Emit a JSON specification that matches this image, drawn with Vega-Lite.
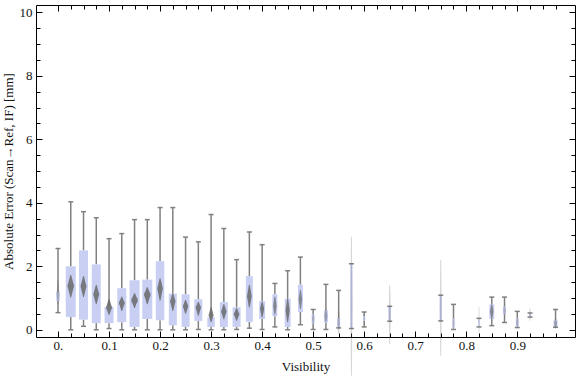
{
  "$schema": "https://vega.github.io/schema/vega-lite/v6.json",
  "width": 539,
  "height": 332,
  "autosize": {"type": "none"},
  "padding": {"left": 36, "top": 5, "right": 1, "bottom": 40},
  "config": {
    "view": {"stroke": "black", "strokeWidth": 1},
    "axis": {
      "grid": false,
      "domain": false,
      "tickColor": "black",
      "tickWidth": 1,
      "labelFont": "Liberation Serif",
      "labelFontSize": 13,
      "labelColor": "#111",
      "titleFont": "Liberation Serif",
      "titleFontSize": 13,
      "titleFontWeight": "normal",
      "titleColor": "#111"
    }
  },
  "data": {
    "values": [
      {"vis": 0.0, "wlo": 0.54, "q1": 0.91, "med": 1.15, "q3": 1.19, "whi": 2.56, "cilo": 0.83, "cihi": 1.56, "n": 12},
      {"vis": 0.025, "wlo": 0.0, "q1": 0.40, "med": 1.38, "q3": 2.0, "whi": 4.03, "cilo": 1.03, "cihi": 1.72, "n": 100},
      {"vis": 0.05, "wlo": 0.11, "q1": 0.32, "med": 1.37, "q3": 2.5, "whi": 3.72, "cilo": 1.05, "cihi": 1.68, "n": 81},
      {"vis": 0.075, "wlo": 0.0, "q1": 0.21, "med": 1.12, "q3": 2.06, "whi": 3.53, "cilo": 0.82, "cihi": 1.40, "n": 81},
      {"vis": 0.1, "wlo": 0.04, "q1": 0.21, "med": 0.70, "q3": 0.72, "whi": 2.87, "cilo": 0.48, "cihi": 0.96, "n": 81},
      {"vis": 0.125, "wlo": 0.0, "q1": 0.24, "med": 0.84, "q3": 1.31, "whi": 3.03, "cilo": 0.61, "cihi": 1.03, "n": 81},
      {"vis": 0.15, "wlo": 0.0, "q1": 0.09, "med": 0.93, "q3": 1.56, "whi": 3.47, "cilo": 0.70, "cihi": 1.14, "n": 100},
      {"vis": 0.175, "wlo": 0.0, "q1": 0.34, "med": 1.10, "q3": 1.58, "whi": 3.47, "cilo": 0.82, "cihi": 1.33, "n": 100},
      {"vis": 0.2, "wlo": 0.0, "q1": 0.30, "med": 1.30, "q3": 2.16, "whi": 3.85, "cilo": 0.93, "cihi": 1.61, "n": 72},
      {"vis": 0.225, "wlo": 0.0, "q1": 0.14, "med": 0.90, "q3": 1.14, "whi": 3.85, "cilo": 0.61, "cihi": 1.14, "n": 64},
      {"vis": 0.25, "wlo": 0.0, "q1": 0.09, "med": 0.74, "q3": 1.12, "whi": 2.92, "cilo": 0.52, "cihi": 0.93, "n": 64},
      {"vis": 0.275, "wlo": 0.01, "q1": 0.28, "med": 0.70, "q3": 0.96, "whi": 2.77, "cilo": 0.46, "cihi": 0.87, "n": 64},
      {"vis": 0.3, "wlo": 0.0, "q1": 0.09, "med": 0.46, "q3": 0.39, "whi": 3.63, "cilo": 0.25, "cihi": 0.70, "n": 56},
      {"vis": 0.325, "wlo": 0.0, "q1": 0.09, "med": 0.58, "q3": 0.87, "whi": 3.19, "cilo": 0.35, "cihi": 0.80, "n": 64},
      {"vis": 0.35, "wlo": 0.01, "q1": 0.09, "med": 0.49, "q3": 0.71, "whi": 2.21, "cilo": 0.30, "cihi": 0.68, "n": 64},
      {"vis": 0.375, "wlo": 0.05, "q1": 0.25, "med": 1.06, "q3": 1.69, "whi": 3.08, "cilo": 0.72, "cihi": 1.40, "n": 49},
      {"vis": 0.4, "wlo": 0.01, "q1": 0.34, "med": 0.66, "q3": 0.90, "whi": 2.68, "cilo": 0.40, "cihi": 0.88, "n": 36},
      {"vis": 0.425, "wlo": 0.09, "q1": 0.43, "med": 0.75, "q3": 1.12, "whi": 1.46, "cilo": 0.49, "cihi": 1.03, "n": 25},
      {"vis": 0.45, "wlo": 0.0, "q1": 0.09, "med": 0.61, "q3": 0.98, "whi": 1.86, "cilo": 0.25, "cihi": 0.98, "n": 36},
      {"vis": 0.475, "wlo": 0.16, "q1": 0.56, "med": 0.96, "q3": 1.42, "whi": 2.29, "cilo": 0.67, "cihi": 1.24, "n": 25},
      {"vis": 0.5, "wlo": 0.01, "q1": 0.21, "med": 0.35, "q3": 0.48, "whi": 0.64, "cilo": 0.20, "cihi": 0.50, "n": 9},
      {"vis": 0.525, "wlo": 0.01, "q1": 0.23, "med": 0.43, "q3": 0.61, "whi": 1.43, "cilo": 0.25, "cihi": 0.65, "n": 16},
      {"vis": 0.55, "wlo": 0.06, "q1": 0.09, "med": 0.20, "q3": 0.37, "whi": 1.24, "cilo": -0.10, "cihi": 0.60, "n": 9},
      {"vis": 0.575, "wlo": 0.04, "q1": 0.05, "med": 0.75, "q3": 2.08, "whi": 2.08, "cilo": -1.43, "cihi": 2.92, "n": 5},
      {"vis": 0.6, "wlo": 0.09, "q1": 0.28, "med": 0.35, "q3": 0.43, "whi": 0.56, "cilo": 0.20, "cihi": 0.50, "n": 4},
      {"vis": 0.65, "wlo": 0.27, "q1": 0.27, "med": 0.50, "q3": 0.74, "whi": 0.74, "cilo": -0.43, "cihi": 1.40, "n": 6},
      {"vis": 0.75, "wlo": 0.28, "q1": 0.28, "med": 0.70, "q3": 1.09, "whi": 1.09, "cilo": -0.80, "cihi": 2.19, "n": 5},
      {"vis": 0.775, "wlo": 0.01, "q1": 0.04, "med": 0.20, "q3": 0.37, "whi": 0.80, "cilo": 0.05, "cihi": 0.40, "n": 6},
      {"vis": 0.825, "wlo": 0.09, "q1": 0.09, "med": 0.30, "q3": 0.36, "whi": 0.36, "cilo": -0.10, "cihi": 0.72, "n": 2},
      {"vis": 0.85, "wlo": 0.13, "q1": 0.34, "med": 0.58, "q3": 0.80, "whi": 1.03, "cilo": 0.35, "cihi": 0.80, "n": 25},
      {"vis": 0.875, "wlo": 0.23, "q1": 0.49, "med": 0.61, "q3": 0.74, "whi": 1.03, "cilo": 0.45, "cihi": 0.78, "n": 9},
      {"vis": 0.9, "wlo": 0.07, "q1": 0.09, "med": 0.22, "q3": 0.36, "whi": 0.58, "cilo": 0.08, "cihi": 0.38, "n": 9},
      {"vis": 0.925, "wlo": 0.40, "q1": 0.40, "med": 0.47, "q3": 0.53, "whi": 0.53, "cilo": 0.30, "cihi": 0.67, "n": 4},
      {"vis": 0.975, "wlo": 0.08, "q1": 0.08, "med": 0.20, "q3": 0.30, "whi": 0.64, "cilo": 0.05, "cihi": 0.35, "n": 16}
    ]
  },
  "layer": [
    {
      "mark": {"type": "rule", "color": "#808080", "strokeWidth": 1.5},
      "encoding": {
        "x": {"field": "vis", "type": "quantitative", "scale": {"domain": [-0.0333, 1.0033], "nice": false, "zero": false},
          "axis": {"orient": "bottom", "values": [0, 0.1, 0.2, 0.3, 0.4, 0.5, 0.6, 0.7, 0.8, 0.9], "tickSize": -6, "labelPadding": 8,
            "labelExpr": "datum.value == 0 ? '0.' : format(datum.value, '.1f')", "title": "Visibility", "titlePadding": 8}},
        "y": {"field": "wlo", "type": "quantitative", "scale": {"domain": [-0.227, 10.23], "nice": false, "zero": false},
          "axis": {"orient": "left", "values": [0, 2, 4, 6, 8, 10], "tickSize": -6, "labelPadding": 10,
            "title": "Absolute Error (Scan→Ref, IF) [mm]", "titlePadding": 4}},
        "y2": {"field": "q1"}
      }
    },
    {
      "mark": {"type": "rule", "color": "#808080", "strokeWidth": 1.5},
      "encoding": {
        "x": {"field": "vis", "type": "quantitative", "axis": null},
        "y": {"field": "q3", "type": "quantitative", "axis": null},
        "y2": {"field": "whi"}
      }
    },
    {
      "mark": {"type": "bar", "color": "#c8cff3"},
      "encoding": {
        "x": {"field": "vis", "type": "quantitative",
          "axis": {"orient": "bottom", "values": [0, 0.025, 0.05, 0.075, 0.1, 0.125, 0.15, 0.175, 0.2, 0.225, 0.25, 0.275, 0.3, 0.325, 0.35, 0.375, 0.4, 0.425, 0.45, 0.475, 0.5, 0.525, 0.55, 0.575, 0.6, 0.625, 0.65, 0.675, 0.7, 0.725, 0.75, 0.775, 0.8, 0.825, 0.85, 0.875, 0.9, 0.925, 0.95, 0.975], "tickSize": -4, "labels": false, "title": null}},
        "y": {"field": "q1", "type": "quantitative",
          "axis": {"orient": "left", "values": [0, 0.5, 1, 1.5, 2, 2.5, 3, 3.5, 4, 4.5, 5, 5.5, 6, 6.5, 7, 7.5, 8, 8.5, 9, 9.5, 10], "tickSize": -4, "labels": false, "title": null}},
        "y2": {"field": "q3"},
        "size": {"field": "n", "type": "quantitative", "scale": {"type": "sqrt", "domain": [0, 100], "range": [0, 10]}, "legend": null}
      }
    },
    {
      "mark": {"type": "tick", "orient": "horizontal", "color": "#808080", "thickness": 1.5, "size": 5, "opacity": 1},
      "encoding": {
        "x": {"field": "vis", "type": "quantitative",
          "axis": {"orient": "top", "values": [0, 0.1, 0.2, 0.3, 0.4, 0.5, 0.6, 0.7, 0.8, 0.9], "tickSize": -6, "labels": false, "title": null}},
        "y": {"field": "wlo", "type": "quantitative",
          "axis": {"orient": "right", "values": [0, 2, 4, 6, 8, 10], "tickSize": -6, "labels": false, "title": null}}
      }
    },
    {
      "mark": {"type": "tick", "orient": "horizontal", "color": "#808080", "thickness": 1.5, "size": 5, "opacity": 1},
      "encoding": {
        "x": {"field": "vis", "type": "quantitative",
          "axis": {"orient": "top", "values": [0, 0.025, 0.05, 0.075, 0.1, 0.125, 0.15, 0.175, 0.2, 0.225, 0.25, 0.275, 0.3, 0.325, 0.35, 0.375, 0.4, 0.425, 0.45, 0.475, 0.5, 0.525, 0.55, 0.575, 0.6, 0.625, 0.65, 0.675, 0.7, 0.725, 0.75, 0.775, 0.8, 0.825, 0.85, 0.875, 0.9, 0.925, 0.95, 0.975], "tickSize": -4, "labels": false, "title": null}},
        "y": {"field": "whi", "type": "quantitative",
          "axis": {"orient": "right", "values": [0, 0.5, 1, 1.5, 2, 2.5, 3, 3.5, 4, 4.5, 5, 5.5, 6, 6.5, 7, 7.5, 8, 8.5, 9, 9.5, 10], "tickSize": -4, "labels": false, "title": null}}
      }
    },
    {
      "transform": [{"fold": ["cilo", "med", "cihi"], "as": ["part", "val"]}],
      "mark": {"type": "trail", "color": "#6a6a6a"},
      "encoding": {
        "x": {"field": "vis", "type": "quantitative", "axis": null},
        "y": {"field": "val", "type": "quantitative", "axis": null},
        "detail": {"field": "vis", "type": "nominal"},
        "order": {"field": "val", "type": "quantitative"},
        "opacity": {"field": "n", "type": "quantitative", "scale": {"domain": [0, 30], "range": [0.15, 0.85], "clamp": true}, "legend": null},
        "size": {"condition": {"test": "datum.part === 'med'", "field": "n", "type": "quantitative", "scale": {"type": "sqrt", "domain": [0, 100], "range": [0.6, 6.5]}, "legend": null}, "value": 0}
      }
    }
  ],
  "resolve": {
    "scale": {"size": "independent"},
    "axis": {"x": "independent", "y": "independent"}
  }
}
